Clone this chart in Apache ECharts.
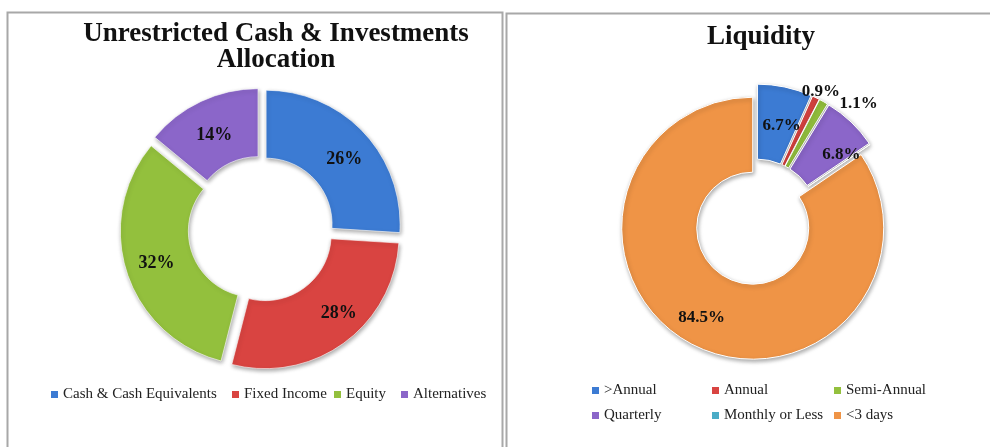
<!DOCTYPE html>
<html>
<head>
<meta charset="utf-8">
<script src="https://cdn.jsdelivr.net/npm/echarts@6/dist/echarts.min.js"></script>
<style>
  html, body { margin: 0; padding: 0; background: #fff; }
  #chart { width: 990px; height: 447px; }
</style>
</head>
<body>
<div id="chart"></div>
<script>
// data
const allocCategories = ['Cash & Cash Equivalents', 'Fixed Income', 'Equity', 'Alternatives'];
const allocValues = [26, 28, 32, 14];
const liqCategories = ['>Annual', 'Annual', 'Semi-Annual', 'Quarterly', 'Monthly or Less', '<3 days'];
const liqValues = [6.7, 0.9, 1.1, 6.8, 0, 84.5];

const allocColors = ['#3c7bd3', '#d94441', '#93c03d', '#8b66c9'];
const liqColors = ['#3c7bd3', '#d94441', '#93c03d', '#8b66c9', '#4bacc6', '#ef9446'];

const FONT = 'Liberation Serif';

const chart = echarts.init(document.getElementById('chart'));

// legend placement (left: one row, right: 3 columns x 2 rows)
const allocLegendX = [51, 232, 334, 401];
const liqLegendX = [592, 712, 834];
const liqLegendY = [383, 408];

const legends = [];
allocCategories.forEach((name, i) => {
  legends.push({ data: [name], left: allocLegendX[i], top: 387 });
});
liqCategories.forEach((name, i) => {
  legends.push({ data: [name], left: liqLegendX[i % 3], top: liqLegendY[Math.floor(i / 3)] });
});
legends.forEach(l => {
  l.icon = 'rect';
  l.itemWidth = 7;
  l.itemHeight = 7;
  l.itemGap = 4;
  l.padding = 0;
  l.selectedMode = false;
  l.itemStyle = { borderWidth: 0, shadowBlur: 0, shadowOffsetX: 0, shadowOffsetY: 0 };
  l.textStyle = { fontFamily: FONT, fontSize: 15, color: '#222' };
});

const shadow = {
  shadowBlur: 4,
  shadowColor: 'rgba(0,0,0,0.35)',
  shadowOffsetX: 1,
  shadowOffsetY: 2
};

// label nudges
const allocLabelShift = { 0: [3, 6], 1: [13, -5], 3: [0, 6] };
const liqLabelShift = { 0: [4, 5], 1: [-20, -4], 2: [10, 4], 3: [14, 8], 5: [-6, 4] };
const shiftBy = table => p => {
  const s = table[p.dataIndex];
  return s ? { dx: s[0], dy: s[1] } : {};
};

const option = {
  animation: false,
  textStyle: { fontFamily: FONT },
  graphic: [
    { type: 'rect', shape: { x: 7.5, y: 12.5, width: 495, height: 450 }, style: { fill: 'none', stroke: '#a8a8a8', lineWidth: 2 } },
    { type: 'rect', shape: { x: 506.5, y: 13.5, width: 490, height: 450 }, style: { fill: 'none', stroke: '#a8a8a8', lineWidth: 2 } }
  ],
  title: [
    {
      text: 'Unrestricted Cash & Investments\nAllocation',
      left: 271,
      top: 16,
      textAlign: 'center',
      textStyle: { fontFamily: FONT, fontSize: 27, fontWeight: 'bold', color: '#111', lineHeight: 26 }
    },
    {
      text: 'Liquidity',
      left: 756,
      top: 19,
      textAlign: 'center',
      textStyle: { fontFamily: FONT, fontSize: 27, fontWeight: 'bold', color: '#111' }
    }
  ],
  legend: legends,
  series: [
    {
      name: 'Allocation',
      type: 'pie',
      center: [261, 229],
      radius: [66, 134],
      startAngle: 90,
      selectedMode: 'multiple',
      selectedOffset: 7,
      silent: true,
      label: {
        show: true,
        position: 'inside',
        formatter: p => p.value + '%',
        fontFamily: FONT,
        fontSize: 18,
        fontWeight: 'bold',
        color: '#111'
      },
      labelLine: { show: false },
      labelLayout: shiftBy(allocLabelShift),
      itemStyle: Object.assign({ borderColor: 'rgba(255,255,255,0.6)', borderWidth: 1 }, shadow),
      data: allocCategories.map((name, i) => ({
        name: name,
        value: allocValues[i],
        selected: true,
        itemStyle: { color: allocColors[i] }
      }))
    },
    {
      name: 'Liquidity',
      type: 'pie',
      center: [756, 222],
      radius: [56, 131],
      startAngle: 90,
      selectedMode: 'multiple',
      selectedOffset: 7,
      silent: true,
      avoidLabelOverlap: false,
      label: {
        show: true,
        position: 'inside',
        formatter: p => p.value.toFixed(1) + '%',
        fontFamily: FONT,
        fontSize: 17,
        fontWeight: 'bold',
        color: '#111'
      },
      labelLine: { show: false, length: 2, length2: 0 },
      labelLayout: shiftBy(liqLabelShift),
      itemStyle: Object.assign({ borderColor: '#fff', borderWidth: 1 }, shadow),
      data: liqCategories.map((name, i) => {
        const item = {
          name: name,
          value: liqValues[i],
          selected: true,
          itemStyle: { color: liqColors[i] }
        };
        if (liqValues[i] === 0) item.label = { show: false };
        else if (liqValues[i] < 2) item.label = { position: 'outside' };
        return item;
      })
    }
  ]
};

chart.setOption(option);
</script>
</body>
</html>
